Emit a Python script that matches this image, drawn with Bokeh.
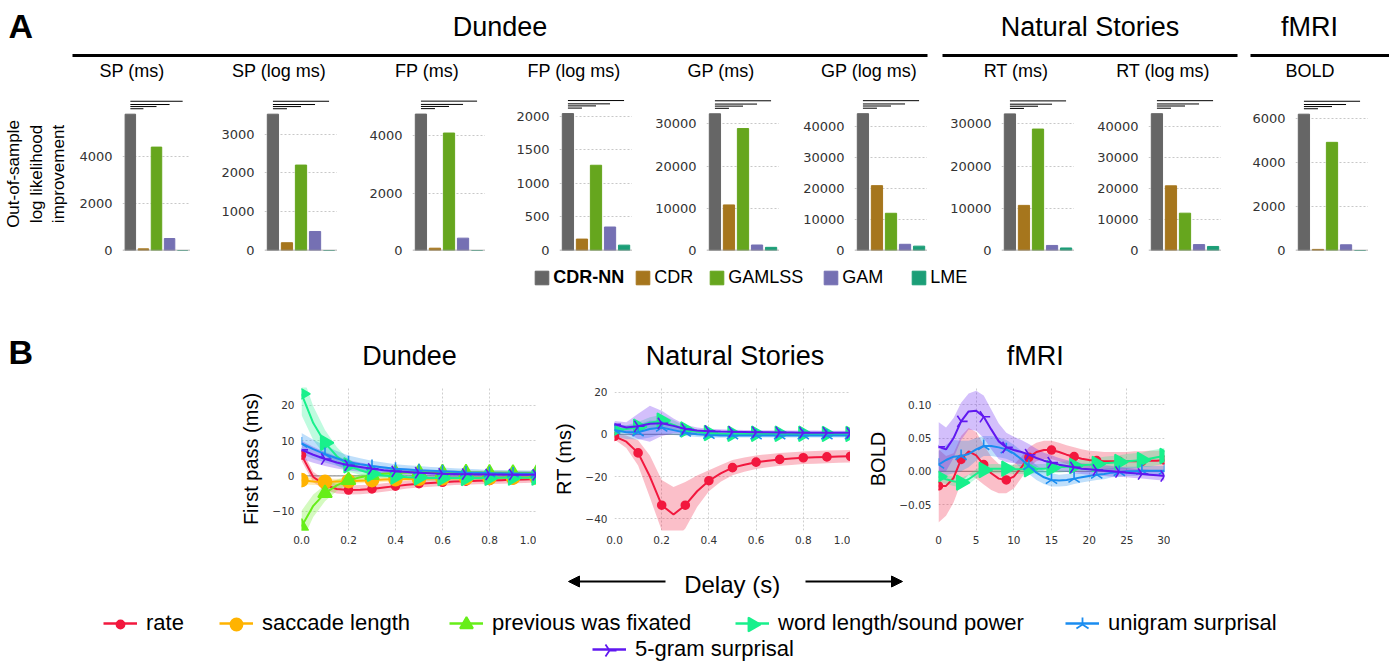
import numpy as np
from bokeh.plotting import figure
from bokeh.layouts import column, row
from bokeh.models import (Range1d, FixedTicker, CustomJSTickFormatter, Legend, LegendItem,
                          Span, Arrow, NormalHead)
from bokeh.embed import file_html
from bokeh.resources import INLINE
from bokeh.core.properties import value

# ===================== DATA: panel A =====================
models = ["CDR-NN", "CDR", "GAMLSS", "GAM", "LME"]
group_names = ["Dundee", "Natural Stories", "fMRI"]
panel_titles = ["SP (ms)", "SP (log ms)", "FP (ms)", "FP (log ms)", "GP (ms)",
                "GP (log ms)", "RT (ms)", "RT (log ms)", "BOLD"]
sp_ms = [5800, 70, 4400, 510, 0]
sp_log = [3510, 200, 2200, 490, 0]
fp_ms = [4750, 80, 4090, 430, 0]
fp_log = [2040, 170, 1270, 350, 80]
gp_ms = [32400, 10800, 28900, 1300, 750]
gp_log = [44100, 20900, 12000, 2000, 1400]
rt_ms = [32400, 10700, 28800, 1200, 600]
rt_log = [44000, 20800, 12000, 1900, 1300]
bold_a = [6200, 50, 4920, 260, 0]
bar_values = [sp_ms, sp_log, fp_ms, fp_log, gp_ms, gp_log, rt_ms, rt_log, bold_a]
bar_ticks = [[0, 2000, 4000], [0, 1000, 2000, 3000], [0, 2000, 4000],
             [0, 500, 1000, 1500, 2000], [0, 10000, 20000, 30000],
             [0, 10000, 20000, 30000, 40000], [0, 10000, 20000, 30000],
             [0, 10000, 20000, 30000, 40000], [0, 2000, 4000, 6000]]
bar_ylabel = "Out-of-sample\nlog likelihood\nimprovement"

# ===================== DATA: panel B =====================
delay_s = [0.0, 0.05, 0.1, 0.15, 0.2, 0.25, 0.3, 0.35, 0.4, 0.45, 0.5,
           0.55, 0.6, 0.65, 0.7, 0.75, 0.8, 0.85, 0.9, 0.95, 1.0]
delay_fmri = [0, 1, 2, 3, 4, 5, 6, 7, 8, 9, 10, 11, 12, 13, 14, 15, 16, 17, 18, 19, 20,
              21, 22, 23, 24, 25, 26, 27, 28, 29, 30]

# Dundee (first pass, ms)
rate_d = [5.9, -0.3, -2.6, -3.7, -4.0, -3.9, -3.7, -3.3, -2.9, -2.5, -2.2, -2.0, -1.8, -1.6, -1.5, -1.4, -1.3, -1.2, -1.1, -1.0, -0.9]
rate_d_err = [1.6, 1.5, 1.4, 1.3, 1.3, 1.3, 1.2, 1.2, 1.2, 1.1, 1.1, 1.1, 1.1, 1.0, 1.0, 1.0, 1.0, 1.0, 1.0, 1.0, 1.0]
sacc_d = [-1.2, -1.6, -1.7, -1.6, -1.5, -1.35, -1.2, -1.05, -0.95, -0.85, -0.8, -0.75, -0.7, -0.65, -0.6, -0.55, -0.55, -0.5, -0.5, -0.45, -0.45]
sacc_d_err = [1.2, 1.0, 0.9, 0.8, 0.8, 0.7, 0.7, 0.7, 0.6, 0.6, 0.6, 0.6, 0.6, 0.6, 0.6, 0.6, 0.6, 0.6, 0.6, 0.6, 0.6]
prev_d = [-14.4, -8.5, -4.9, -2.7, -1.2, -0.4, 0.2, 0.6, 0.85, 1.0, 1.05, 1.05, 1.0, 1.0, 0.95, 0.95, 0.9, 0.9, 0.85, 0.85, 0.8]
prev_d_err = [4.5, 3.2, 2.3, 1.6, 1.1, 0.9, 0.8, 0.7, 0.7, 0.6, 0.6, 0.6, 0.6, 0.6, 0.6, 0.6, 0.6, 0.6, 0.6, 0.6, 0.6]
word_d = [23.3, 15.0, 9.4, 5.6, 3.0, 1.6, 0.6, 0.1, -0.2, -0.4, -0.5, -0.6, -0.6, -0.6, -0.6, -0.6, -0.55, -0.55, -0.5, -0.5, -0.5]
word_d_err = [6.0, 4.8, 3.6, 2.6, 1.8, 1.3, 1.0, 0.8, 0.7, 0.7, 0.7, 0.7, 0.7, 0.7, 0.7, 0.7, 0.7, 0.7, 0.7, 0.7, 0.7]
uni_d = [9.2, 7.6, 6.2, 5.0, 3.9, 3.3, 2.8, 2.4, 2.0, 1.8, 1.6, 1.45, 1.3, 1.15, 1.0, 0.9, 0.8, 0.75, 0.7, 0.65, 0.6]
uni_d_err = [3.0, 2.7, 2.4, 2.1, 1.9, 1.7, 1.5, 1.4, 1.3, 1.2, 1.2, 1.1, 1.1, 1.0, 1.0, 1.0, 0.9, 0.9, 0.9, 0.9, 0.9]
five_d = [7.4, 6.0, 4.8, 3.8, 3.0, 2.5, 2.0, 1.6, 1.3, 1.1, 0.9, 0.75, 0.6, 0.55, 0.5, 0.45, 0.4, 0.38, 0.35, 0.32, 0.3]
five_d_err = [2.6, 2.3, 2.0, 1.7, 1.5, 1.3, 1.2, 1.1, 1.0, 1.0, 0.9, 0.9, 0.9, 0.9, 0.9, 0.9, 0.9, 0.9, 0.9, 0.9, 0.9]

# Natural Stories (RT, ms)
rate_n = [-1.0, -3.5, -8.8, -20.0, -33.6, -38.0, -33.6, -27.0, -22.0, -18.5, -15.8, -14.4, -13.2, -12.5, -11.9, -11.5, -11.1, -10.9, -10.7, -10.5, -10.4]
rate_n_err = [1.5, 3.0, 6.0, 10.0, 12.0, 13.0, 11.0, 7.5, 5.0, 4.0, 3.6, 3.4, 3.2, 3.1, 3.0, 3.0, 3.0, 3.0, 3.0, 3.0, 3.0]
word_n = [2.0, 2.5, 3.6, 5.5, 6.5, 4.5, 2.3, 1.2, 0.6, 0.4, 0.3, 0.3, 0.3, 0.3, 0.25, 0.25, 0.25, 0.2, 0.2, 0.2, 0.2]
word_n_err = [1.5, 1.8, 2.2, 2.6, 2.8, 2.2, 1.5, 1.1, 1.0, 1.0, 1.0, 1.0, 1.0, 1.0, 1.0, 1.0, 1.0, 1.0, 1.0, 1.0, 1.0]
uni_n = [2.0, 1.0, 1.0, 2.5, 3.2, 2.0, 0.8, 0.0, -0.3, -0.5, -0.5, -0.5, -0.5, -0.5, -0.5, -0.5, -0.5, -0.5, -0.5, -0.5, -0.5]
uni_n_err = [3.0, 3.2, 3.5, 4.0, 3.2, 2.3, 1.6, 1.3, 1.2, 1.1, 1.0, 1.0, 1.0, 1.0, 1.0, 1.0, 1.0, 1.0, 1.0, 1.0, 1.0]
five_n = [4.8, 3.2, 3.8, 5.0, 5.2, 4.0, 2.5, 1.8, 1.5, 1.3, 1.2, 1.1, 1.0, 0.95, 0.9, 0.85, 0.8, 0.78, 0.75, 0.72, 0.7]
five_n_err = [1.5, 2.5, 6.0, 8.5, 6.0, 3.5, 2.0, 1.4, 1.2, 1.1, 1.0, 1.0, 1.0, 1.0, 1.0, 1.0, 1.0, 1.0, 1.0, 1.0, 1.0]

# fMRI (BOLD)
rate_f = [-0.022, -0.022, -0.010, 0.018, 0.030, 0.024, 0.010, -0.003, -0.011, -0.013, -0.008, 0.006, 0.021, 0.029, 0.032, 0.032,
          0.029, 0.025, 0.022, 0.019, 0.017, 0.016, 0.015, 0.015, 0.015, 0.015, 0.015, 0.015, 0.016, 0.016, 0.017]
rate_f_err = [0.055, 0.045, 0.037, 0.035, 0.035, 0.035, 0.030, 0.025, 0.022, 0.020, 0.018, 0.016, 0.015, 0.014, 0.014, 0.014,
              0.014, 0.014, 0.014, 0.014, 0.014, 0.014, 0.014, 0.014, 0.014, 0.014, 0.015, 0.015, 0.015, 0.015, 0.015]
word_f = [-0.008, -0.012, -0.015, -0.017, -0.012, -0.004, 0.002, 0.004, 0.004, 0.004, 0.003, 0.003, 0.003, 0.004, 0.004, 0.005,
          0.006, 0.007, 0.008, 0.009, 0.010, 0.011, 0.012, 0.013, 0.014, 0.015, 0.016, 0.017, 0.019, 0.021, 0.023]
word_f_err = [0.007, 0.007, 0.007, 0.007, 0.007, 0.007, 0.007, 0.007, 0.007, 0.007, 0.007, 0.007, 0.007, 0.007, 0.007, 0.008,
              0.008, 0.008, 0.008, 0.009, 0.009, 0.009, 0.010, 0.010, 0.010, 0.011, 0.011, 0.011, 0.012, 0.012, 0.012]
uni_f = [0.010, 0.017, 0.022, 0.023, 0.026, 0.033, 0.038, 0.038, 0.036, 0.033, 0.027, 0.018, 0.008, -0.002, -0.009, -0.013,
         -0.014, -0.013, -0.011, -0.009, -0.007, -0.005, -0.004, -0.002, -0.001, 0.000, 0.000, 0.001, 0.001, 0.001, 0.001]
uni_f_err = [0.020, 0.023, 0.025, 0.023, 0.020, 0.017, 0.015, 0.015, 0.015, 0.014, 0.013, 0.013, 0.012, 0.011, 0.010, 0.010,
             0.009, 0.009, 0.008, 0.008, 0.008, 0.008, 0.008, 0.007, 0.007, 0.007, 0.007, 0.007, 0.007, 0.007, 0.007]
five_f = [0.037, 0.033, 0.050, 0.075, 0.090, 0.091, 0.082, 0.063, 0.045, 0.036, 0.032, 0.029, 0.025, 0.020, 0.016, 0.013,
          0.010, 0.008, 0.006, 0.004, 0.003, 0.002, 0.001, 0.000, -0.001, -0.002, -0.003, -0.004, -0.005, -0.006, -0.007]
five_f_err = [0.037, 0.033, 0.030, 0.028, 0.027, 0.030, 0.032, 0.030, 0.027, 0.022, 0.020, 0.018, 0.016, 0.014, 0.012, 0.011,
              0.010, 0.009, 0.009, 0.008, 0.008, 0.008, 0.008, 0.008, 0.007, 0.007, 0.007, 0.007, 0.007, 0.007, 0.007]

series_labels = {"rate": "rate", "sacc": "saccade length", "prev": "previous was fixated",
                 "word": "word length/sound power", "uni": "unigram surprisal", "five": "5-gram surprisal"}
dundee_series = {"rate": (rate_d, rate_d_err), "sacc": (sacc_d, sacc_d_err), "prev": (prev_d, prev_d_err),
                 "word": (word_d, word_d_err), "uni": (uni_d, uni_d_err), "five": (five_d, five_d_err)}
ns_series = {"rate": (rate_n, rate_n_err), "word": (word_n, word_n_err),
             "uni": (uni_n, uni_n_err), "five": (five_n, five_n_err)}
fmri_series = {"rate": (rate_f, rate_f_err), "word": (word_f, word_f_err),
               "uni": (uni_f, uni_f_err), "five": (five_f, five_f_err)}
ticks_delay = [0.0, 0.2, 0.4, 0.6, 0.8, 1.0]
ticks_fmri_x = [0, 5, 10, 15, 20, 25, 30]
ticks_dundee_y = [-10, 0, 10, 20]
ticks_ns_y = [-40, -20, 0, 20]
ticks_fmri_y = [-0.05, 0.0, 0.05, 0.10]

# ===================== STYLE / LAYOUT =====================
W = 1389
FONT = "Liberation Sans"
TFONT = "DejaVu Sans"
TICK_COLOR = "#333333"
model_colors = ["#666666", "#a6761d", "#66a61e", "#7570b3", "#1b9e77"]
style = {
    "rate": dict(color="#f2183e", marker="circle", size=8, angle=0.0, lsize=8),
    "sacc": dict(color="#ffb300", marker="circle", size=13, angle=0.0, lsize=12),
    "prev": dict(color="#66ee18", marker="triangle", size=14, angle=0.0, lsize=13),
    "word": dict(color="#18f08c", marker="triangle", size=15, angle=-np.pi / 2, lsize=14),
    "uni": dict(color="#1a8cf0", marker="y", size=13, angle=np.pi, lsize=14),
    "five": dict(color="#6018f0", marker="y", size=13, angle=np.pi / 2, lsize=14),
}

HDR_A_H = 90
ROW_A_H = 175
BARLEG_H = 35
HDR_B_H = 80
ROW_B_H = 180
DELAY_H = 42
LEG_H = 60

FRAME_LEFTS = [117, 264, 412, 559, 706, 854, 1001, 1148, 1295]
FRAME_W = 73
A_TOP_BORDER = 7
A_BAR_TOP = 23.7          # tallest bar top, px below row top
A_BASELINES = [160, 160, 160.7, 166, 164, 165.3, 163.3, 165, 160]   # px below row top
SIG_FRAC = [1.040, 1.056, 1.071, 1.095]
OFF = -1000  # off-canvas position for legend-only renderers


def no_axes_fig(h, flip=True):
    p = figure(width=W, height=h, x_range=Range1d(0, W),
               y_range=Range1d(h, 0) if flip else Range1d(0, h),
               x_axis_type=None, y_axis_type=None, min_border=0,
               output_backend="svg", toolbar_location=None, tools="")
    p.outline_line_color = None
    return p


def txt(p, x, y, s, size, align="center", bold=False):
    p.text(x=[x], y=[y], text=[s], text_align=align, text_baseline="alphabetic",
           text_font=value(FONT), text_font_size=size, text_color="black",
           text_font_style="bold" if bold else "normal")


# ---------- header A ----------
hdrA = no_axes_fig(HDR_A_H)
txt(hdrA, 8, 25, "A", "34px", align="left", bold=True)
group_lines = [(72, 927), (942, 1237), (1250, 1389)]
group_centers = [499.5, 1089.5, 1309]
for name, c in zip(group_names, group_centers):
    txt(hdrA, c, 26.7, name, "27px")
hdrA.segment(x0=[a for a, b in group_lines], x1=[b for a, b in group_lines],
             y0=[55] * 3, y1=[55] * 3, line_color="black", line_width=3)
for fl, t in zip(FRAME_LEFTS, panel_titles):
    txt(hdrA, fl + FRAME_W / 2 - 22, 70.5, t, "18px")

# ---------- bar row ----------
bar_figs = []
prev_end = 0
for i, (vals, ticks) in enumerate(zip(bar_values, bar_ticks)):
    fl = FRAME_LEFTS[i]
    width = fl + FRAME_W - prev_end
    left = fl - prev_end
    prev_end = fl + FRAME_W
    mbb = int(round(ROW_A_H - A_BASELINES[i]))
    base = ROW_A_H - mbb
    frame_h = base - A_TOP_BORDER
    vmax = max(vals)
    ytop = vmax * frame_h / (base - A_BAR_TOP)
    p = figure(width=width, height=ROW_A_H, x_range=Range1d(-0.6, 4.6), y_range=Range1d(0, ytop),
               x_axis_type=None, min_border_left=left, min_border_right=0,
               min_border_top=A_TOP_BORDER, min_border_bottom=mbb,
               output_backend="svg", toolbar_location=None, tools="")
    p.outline_line_color = None
    ax = p.yaxis[0]
    ax.ticker = FixedTicker(ticks=ticks)
    ax.formatter = CustomJSTickFormatter(code="return tick.toFixed(0);")
    ax.axis_line_color = None
    ax.major_tick_line_color = None
    ax.minor_tick_line_color = None
    ax.major_tick_out = 0
    ax.major_label_standoff = 10
    ax.major_label_text_font = TFONT
    ax.major_label_text_font_size = "13px"
    ax.major_label_text_color = TICK_COLOR
    if i == 0:
        ax.axis_label = bar_ylabel
        ax.axis_label_text_font = FONT
        ax.axis_label_text_font_size = "17px"
        ax.axis_label_text_font_style = "normal"
        ax.axis_label_text_color = "black"
        ax.axis_label_standoff = 8
        ax.axis_label_text_line_height = 1.2
    p.ygrid.grid_line_color = "#c8c8c8"
    p.ygrid.grid_line_dash = "2 2"
    p.ygrid.grid_line_width = 1
    p.vbar(x=list(range(len(models))), top=vals, width=0.8, color=model_colors)
    levels = [vmax * f for f in SIG_FRAC]
    p.segment(x0=[0] * 4, x1=[1, 2, 3, 4], y0=levels, y1=levels, line_color="black", line_width=1)
    p.add_layout(Span(location=0, dimension="width", line_color="#999999", line_width=1.5))
    bar_figs.append(p)

# ---------- bar legend ----------
barleg = no_axes_fig(BARLEG_H, flip=False)
BARLEG_X = [533.3, 634.3, 708.3, 822.3, 910.3]
for i, (m, c) in enumerate(zip(models, model_colors)):
    r = barleg.vbar(x=[OFF], top=[OFF], width=0.8, color=c)
    lg = Legend(items=[LegendItem(label=m, renderers=[r])], location=(BARLEG_X[i], 12),
                orientation="horizontal", glyph_width=17, glyph_height=17, label_height=17,
                label_standoff=3, padding=0, margin=0, border_line_color=None,
                background_fill_alpha=0, label_text_font=FONT, label_text_font_size="18px",
                label_text_color="black", label_text_font_style="bold" if i == 0 else "normal")
    barleg.add_layout(lg)

# ---------- header B ----------
hdrB = no_axes_fig(HDR_B_H)
txt(hdrB, 8, 51, "B", "34px", align="left", bold=True)
for name, c in zip(group_names, [409, 734.5, 1034.7]):
    txt(hdrB, c, 55, name, "27px")


# ---------- line plots ----------
def line_fig(x, series, xr, yr, xticks, yticks, xdec, ydec, ylabel, width, mbl, mbr, mbb, step):
    p = figure(width=width, height=ROW_B_H, x_range=Range1d(*xr), y_range=Range1d(*yr),
               min_border_left=mbl, min_border_right=mbr, min_border_top=7, min_border_bottom=mbb,
               output_backend="svg", toolbar_location=None, tools="")
    p.outline_line_color = None
    for ax, tk, dec in [(p.xaxis[0], xticks, xdec), (p.yaxis[0], yticks, ydec)]:
        ax.ticker = FixedTicker(ticks=tk)
        ax.formatter = CustomJSTickFormatter(
            code="return tick.toFixed(%d).replace('-', '\u2212');" % dec)
        ax.axis_line_color = None
        ax.major_tick_line_color = None
        ax.minor_tick_line_color = None
        ax.major_tick_out = 0
        ax.major_label_text_font = TFONT
        ax.major_label_text_font_size = "10.5px"
        ax.major_label_text_color = TICK_COLOR
    p.xaxis.major_label_standoff = 5
    p.yaxis.major_label_standoff = 7
    p.yaxis.axis_label = ylabel
    p.yaxis.axis_label_text_font = FONT
    p.yaxis.axis_label_text_font_size = "20px"
    p.yaxis.axis_label_text_font_style = "normal"
    p.yaxis.axis_label_text_color = "black"
    p.yaxis.axis_label_standoff = 7
    for g in (p.xgrid, p.ygrid):
        g.grid_line_color = "#cfcfcf"
        g.grid_line_dash = "2 2"
        g.grid_line_width = 1
    p.add_layout(Span(location=0, dimension="width", line_color="#9a9a9a",
                      line_width=1.3, level="underlay"))
    xa = np.array(x, dtype=float)
    for k, (y, e) in series.items():
        y = np.array(y); e = np.array(e)
        p.varea(x=xa, y1=y - e, y2=y + e, fill_color=style[k]["color"], fill_alpha=0.28)
    for k, (y, e) in series.items():
        st = style[k]
        p.line(xa, y, line_color=st["color"], line_width=2)
        p.scatter(xa[::step], np.array(y)[::step], marker=st["marker"], size=st["size"],
                  angle=st["angle"], fill_color=st["color"], line_color=st["color"], line_width=1.6)
    return p


f_d = line_fig(delay_s, dundee_series, (0, 1), (-15.5, 25.1), ticks_delay, ticks_dundee_y, 1, 0,
               "First pass (ms)", 536, 301, 0, 27, 2)
f_n = line_fig(delay_s, ns_series, (0, 1), (-45.6, 22.2), ticks_delay, ticks_ns_y, 1, 0,
               "RT (ms)", 314, 78, 0, 27, 2)
f_f = line_fig(delay_fmri, fmri_series, (0, 30), (-0.089, 0.126), ticks_fmri_x, ticks_fmri_y, 0, 2,
               "BOLD", 320, 88, 6, 30, 3)

# ---------- delay arrow ----------
dl = no_axes_fig(DELAY_H)
txt(dl, 731.7, 24, "Delay (s)", "24px")
for xs, xe in [(665, 568), (805, 902)]:
    dl.add_layout(Arrow(end=NormalHead(size=11, fill_color="black", line_color="black"),
                        x_start=xs, y_start=21, x_end=xe, y_end=21,
                        line_color="black", line_width=2))

# ---------- line legend ----------
# Legend draws the swatch line + label; the marker is drawn at the swatch centre so
# that rotated markers (which Bokeh legends do not rotate) keep their orientation.
leg = no_axes_fig(LEG_H, flip=False)
LEG_ORDER = ["rate", "sacc", "prev", "word", "uni", "five"]
LEG_POS = [(103, 26), (219, 26), (449, 26), (735, 26), (1065, 26), (592, 0)]
GW, GH = 34, 24
for k, pos in zip(LEG_ORDER, LEG_POS):
    st = style[k]
    r1 = leg.line(x=[OFF, OFF - 1], y=[OFF, OFF], line_color=st["color"], line_width=2.5)
    leg.scatter(x=[pos[0] + GW / 2], y=[pos[1] + GH / 2], marker=st["marker"], angle=st["angle"],
                size=st["lsize"], fill_color=st["color"], line_color=st["color"], line_width=1.8)
    lg = Legend(items=[LegendItem(label=series_labels[k], renderers=[r1])], location=pos,
                orientation="horizontal", glyph_width=GW, glyph_height=GH, label_height=GH,
                label_standoff=9, padding=0, margin=0, border_line_color=None,
                background_fill_alpha=0, label_text_font=FONT, label_text_font_size="22px",
                label_text_color="black", level="underlay")
    leg.add_layout(lg)

layout = column(hdrA, row(*bar_figs), barleg, hdrB, row(f_d, f_n, f_f), dl, leg)

with open("out.html", "w", encoding="utf-8") as fh:
    fh.write(file_html(layout, INLINE))
